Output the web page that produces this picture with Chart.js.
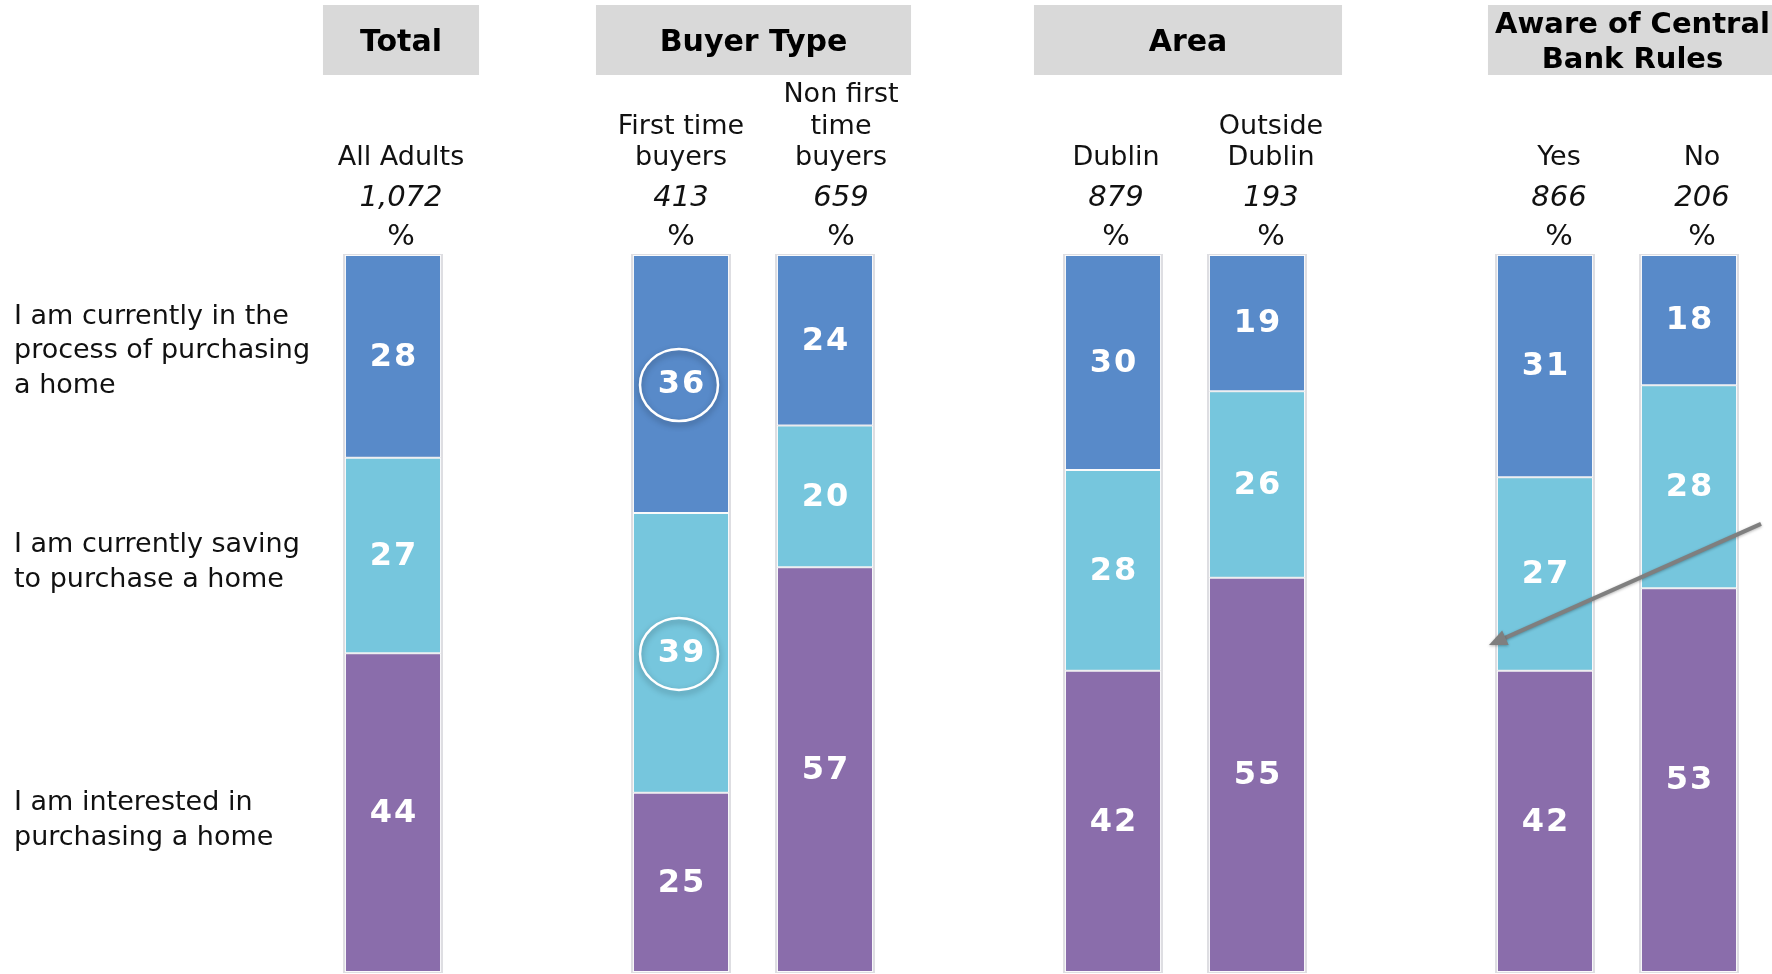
<!DOCTYPE html>
<html>
<head>
<meta charset="utf-8">
<script src="https://cdn.jsdelivr.net/npm/chart.js@4.4.1/dist/chart.umd.min.js"></script>
<style>
  html, body { margin: 0; padding: 0; background: #fff; }
  #wrap { width: 1772px; height: 974px; position: relative; }
</style>
</head>
<body>
<div id="wrap"><canvas id="chart"></canvas></div>
<script>
// grey header boxes
const groupNames = [['Total'], ['Buyer Type'], ['Area'], ['Aware of Central', 'Bank Rules']];

// sub-groups under each header, with base sizes
const columnNames = [['All Adults'], ['First time', 'buyers'], ['Non first', 'time', 'buyers'], ['Dublin'], ['Outside', 'Dublin'], ['Yes'], ['No']];
const columnGroup = [0, 1, 1, 2, 2, 3, 3];
const baseSizes = ['1,072', '413', '659', '879', '193', '866', '206'];

// stacked rows, top to bottom
const rowNames = [
  ['I am currently in the', 'process of purchasing', 'a home'],
  ['I am currently saving', 'to purchase a home'],
  ['I am interested in', 'purchasing a home']
];
const purchasing = [28, 36, 24, 30, 19, 31, 18];
const saving = [27, 39, 20, 28, 26, 27, 28];
const interested = [44, 25, 57, 42, 55, 42, 53];

// circled values: [row, column]
const circled = [[0, 1], [1, 1]];

const seriesColors = ['#588ac9', '#76c6dd', '#8a6dab'];
const FONT = '"DejaVu Sans", Verdana, sans-serif';

// small nudges so the text sits as on the slide
const labelShift = [8, 0, 16, 3, 14, 14, 13];
const headerPad = [[22, 38], [37, 38], [31, 37], [9, 40]];
const rowShift = [-5, 7, 8];

// one slot per column, an empty slot between groups
const slotColumn = [];
columnNames.forEach((c, i) => {
  if (i > 0 && columnGroup[i] !== columnGroup[i - 1]) slotColumn.push(null);
  slotColumn.push(i);
});
const series = [purchasing, saving, interested];
const totals = columnNames.map((c, i) => series.reduce((s, arr) => s + arr[i], 0));

const datasets = series.map((arr, k) => ({
  label: rowNames[k].join(' '),
  data: slotColumn.map(c => c === null ? null : arr[c] / totals[c] * 100),
  raw: slotColumn.map(c => c === null ? null : arr[c]),
  backgroundColor: seriesColors[k],
  borderColor: 'rgba(255,255,255,0.85)',
  borderWidth: 1,
  borderSkipped: false,
  barPercentage: 0.667,
  categoryPercentage: 1
}));

function slotOf(col) { return slotColumn.indexOf(col); }

const slidePlugin = {
  id: 'slide',
  beforeDatasetsDraw(chart) {
    const ctx = chart.ctx;
    const meta = chart.getDatasetMeta(0);
    const area = chart.chartArea;
    ctx.save();
    // faint outline round each bar
    columnNames.forEach((c, i) => {
      const el = meta.data[slotOf(i)];
      ctx.fillStyle = '#dedee2';
      ctx.fillRect(el.x - el.width / 2 - 2, area.top - 1, el.width + 4, area.bottom - area.top + 2);
    });
    ctx.restore();
  },
  afterDatasetsDraw(chart) {
    const ctx = chart.ctx;
    const area = chart.chartArea;
    const meta0 = chart.getDatasetMeta(0);
    ctx.save();

    // header boxes
    groupNames.forEach((g, gi) => {
      const cols = columnNames.map((c, i) => i).filter(i => columnGroup[i] === gi);
      const first = meta0.data[slotOf(cols[0])];
      const last = meta0.data[slotOf(cols[cols.length - 1])];
      const x0 = first.x - first.width / 2 - headerPad[gi][0];
      const x1 = last.x + last.width / 2 + headerPad[gi][1];
      ctx.fillStyle = '#d9d9d9';
      ctx.fillRect(x0, 5, x1 - x0, 70);
      ctx.fillStyle = '#000';
      ctx.textAlign = 'center';
      ctx.textBaseline = 'middle';
      if (g.length === 1) {
        ctx.font = 'bold 30px ' + FONT;
        ctx.fillText(g[0], (x0 + x1) / 2, 43);
      } else {
        ctx.font = 'bold 29px ' + FONT;
        ctx.fillText(g[0], (x0 + x1) / 2, 25);
        ctx.fillText(g[1], (x0 + x1) / 2, 60);
      }
    });

    // column labels, base sizes and %
    columnNames.forEach((lines, i) => {
      const el = meta0.data[slotOf(i)];
      const x = el.x + labelShift[i];
      ctx.fillStyle = '#111';
      ctx.textAlign = 'center';
      ctx.textBaseline = 'middle';
      ctx.font = '27px ' + FONT;
      lines.forEach((t, j) => {
        ctx.fillText(t, x, area.top - 97 - (lines.length - 1 - j) * 31.5);
      });
      ctx.font = 'italic 29px ' + FONT;
      ctx.fillText(baseSizes[i], x, area.top - 57);
      ctx.font = '29px ' + FONT;
      ctx.fillText('%', x, area.top - 18);
    });

    // row labels on the left, next to the Total bar
    const firstSlot = slotOf(0);
    rowNames.forEach((lines, k) => {
      const el = chart.getDatasetMeta(k).data[firstSlot];
      const cy = (el.y + el.base) / 2 + rowShift[k];
      ctx.fillStyle = '#111';
      ctx.textAlign = 'left';
      ctx.textBaseline = 'middle';
      ctx.font = '27px ' + FONT;
      lines.forEach((t, j) => {
        ctx.fillText(t, 14, cy + (j - (lines.length - 1) / 2) * 34.5);
      });
    });

    // value labels
    chart.data.datasets.forEach((ds, k) => {
      chart.getDatasetMeta(k).data.forEach((el, s) => {
        if (ds.raw[s] === null) return;
        ctx.fillStyle = '#fff';
        ctx.textAlign = 'center';
        ctx.textBaseline = 'middle';
        ctx.font = 'bold 32px ' + FONT;
        ctx.letterSpacing = '2px';
        ctx.fillText(String(ds.raw[s]), el.x + 1, (el.y + el.base) / 2 + 1);
        ctx.letterSpacing = '0px';
      });
    });

    // circled values
    circled.forEach(([k, c]) => {
      const el = chart.getDatasetMeta(k).data[slotOf(c)];
      const cy = (el.y + el.base) / 2;
      ctx.save();
      ctx.shadowColor = 'rgba(0,0,0,0.35)';
      ctx.shadowBlur = 6;
      ctx.shadowOffsetY = 3;
      ctx.strokeStyle = '#fff';
      ctx.lineWidth = 2.5;
      ctx.beginPath();
      ctx.ellipse(el.x - 2, cy + 1, 39, 36, 0, 0, Math.PI * 2);
      ctx.stroke();
      ctx.restore();
    });

    // grey arrow pointing at the "Yes" column
    const yes = meta0.data[slotOf(5)];
    const yS = chart.scales.y;
    const sx = area.right, sy = yS.getPixelForValue(37.5);
    const ex = yes.x - yes.width / 2 - 8, ey = yS.getPixelForValue(54.4);
    const ang = Math.atan2(ey - sy, ex - sx);
    const cos = Math.cos(ang), sin = Math.sin(ang);
    ctx.save();
    ctx.shadowColor = 'rgba(0,0,0,0.3)';
    ctx.shadowBlur = 3;
    ctx.shadowOffsetY = 1;
    ctx.strokeStyle = '#7f7f7f';
    ctx.fillStyle = '#7f7f7f';
    ctx.lineWidth = 4;
    ctx.beginPath();
    ctx.moveTo(sx, sy);
    ctx.lineTo(ex - cos * 12, ey - sin * 12);
    ctx.stroke();
    ctx.beginPath();
    ctx.moveTo(ex, ey);
    ctx.lineTo(ex - cos * 18 + sin * 8, ey - sin * 18 - cos * 8);
    ctx.lineTo(ex - cos * 18 - sin * 8, ey - sin * 18 + cos * 8);
    ctx.closePath();
    ctx.fill();
    ctx.restore();

    ctx.restore();
  }
};

new Chart(document.getElementById('chart'), {
  type: 'bar',
  data: {
    labels: slotColumn.map(c => c === null ? '' : columnNames[c].join(' ')),
    datasets: datasets
  },
  options: {
    responsive: true,
    maintainAspectRatio: false,
    animation: false,
    layout: { padding: { left: 321, right: 11, top: 255, bottom: 2 } },
    scales: {
      x: { stacked: true, display: false, grid: { display: false } },
      y: { stacked: true, display: false, reverse: true, min: 0, max: 100, grid: { display: false } }
    },
    plugins: {
      legend: { display: false },
      tooltip: { enabled: false }
    }
  },
  plugins: [slidePlugin]
});
</script>
</body>
</html>
